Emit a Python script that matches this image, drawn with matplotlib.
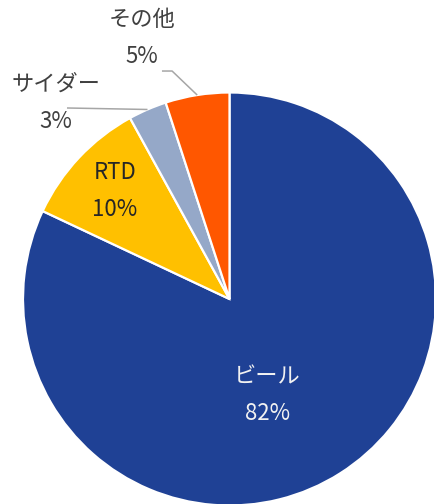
import numpy as np
import matplotlib.pyplot as plt

plt.rcParams['font.family'] = ['Noto Sans CJK JP', 'DejaVu Sans']

# share of sales by category
categories = ["ビール", "RTD", "サイダー", "その他"]
shares = [82, 10, 3, 5]
colors = ["#1F4195", "#FFC000", "#95A8C8", "#FF5700"]
text_colors = ["#F2F2F2", "#262626", "#404040", "#404040"]

# label anchors (data units, pie radius = 1) and leader line paths
label_pos = [(0.182, -0.465), (-0.554, 0.521), (-0.840, 0.949), (-0.424, 1.264)]
leaders = {2: [(-0.787, 0.925)], 3: [(-0.278, 1.104), (-0.327, 1.104)]}

W, H = 434, 504
cx, cy, R = 229.5, 299.0, 206.5

fig = plt.figure(figsize=(W / 100, H / 100), dpi=100)
ax = fig.add_axes([0, 0, 1, 1])

wedges, _ = ax.pie(shares, colors=colors, startangle=90, counterclock=False,
                   radius=1.0, center=(0, 0),
                   wedgeprops=dict(edgecolor="white", linewidth=1.6))

gap = 18.5 / R
for i, (name, val) in enumerate(zip(categories, shares)):
    x, y = label_pos[i]
    ax.text(x, y + gap, name, ha="center", va="center", fontsize=16,
            color=text_colors[i])
    ax.text(x, y - gap, f"{val}%", ha="center", va="center", fontsize=16,
            color=text_colors[i])
    if i in leaders:
        w = wedges[i]
        mid = np.deg2rad((w.theta1 + w.theta2) / 2)
        pts = [(np.cos(mid), np.sin(mid))] + leaders[i]
        xs, ys = zip(*pts)
        ax.plot(xs, ys, color="#A6A6A6", linewidth=1.1, solid_capstyle="butt")

ax.set_xlim(-cx / R, (W - cx) / R)
ax.set_ylim(-(H - cy) / R, cy / R)
ax.set_aspect("auto")
ax.axis("off")

fig.savefig("out.png", dpi=100)
